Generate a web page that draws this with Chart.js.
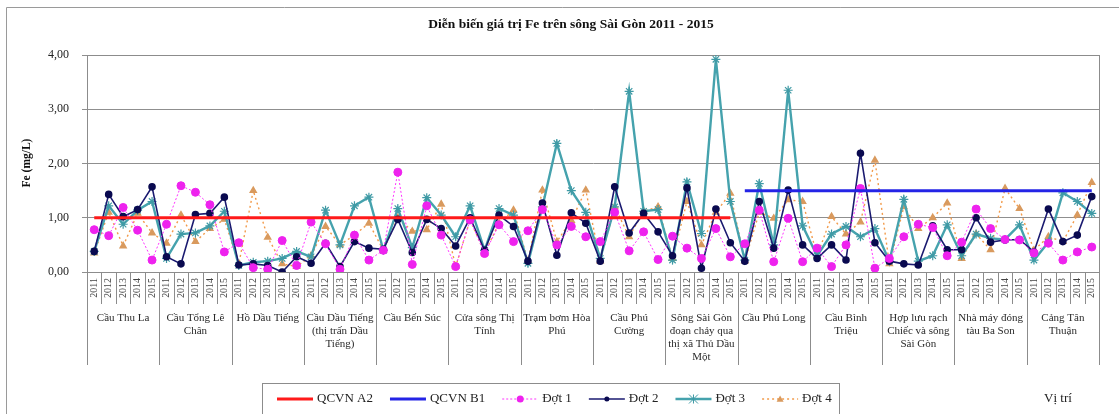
<!DOCTYPE html>
<html lang="vi">
<head>
<meta charset="utf-8">
<title>Fe - sông Sài Gòn</title>
<script src="https://cdn.jsdelivr.net/npm/chart.js@4.4.1/dist/chart.umd.min.js"></script>
<style>
  html, body { margin: 0; padding: 0; background: #fff; }
  canvas { display: block; }
</style>
</head>
<body>
<canvas id="feChart" width="1119" height="414"></canvas>
<script>
// số liệu Fe (mg/L) theo vị trí, mỗi vị trí 5 năm 2011 - 2015
const years = ['2011', '2012', '2013', '2014', '2015'];

const locations = [
  ['Cầu Thu La'],
  ['Cầu Tổng Lê', 'Chân'],
  ['Hồ Dầu Tiếng'],
  ['Cầu Dầu Tiếng', '(thị trấn Dầu', 'Tiếng)'],
  ['Cầu Bến Súc'],
  ['Cửa sông Thị', 'Tính'],
  ['Trạm bơm Hòa', 'Phú'],
  ['Cầu Phú', 'Cường'],
  ['Sông Sài Gòn', 'đoạn chảy qua', 'thị xã Thủ Dầu', 'Một'],
  ['Cầu Phú Long'],
  ['Cầu Bình', 'Triệu'],
  ['Hợp lưu rạch', 'Chiếc và sông', 'Sài Gòn'],
  ['Nhà máy đóng', 'tàu Ba Son'],
  ['Cảng Tân', 'Thuận']
];

const qcvnA2 = [
  1.0, 1.0, 1.0, 1.0, 1.0,
  1.0, 1.0, 1.0, 1.0, 1.0,
  1.0, 1.0, 1.0, 1.0, 1.0,
  1.0, 1.0, 1.0, 1.0, 1.0,
  1.0, 1.0, 1.0, 1.0, 1.0,
  1.0, 1.0, 1.0, 1.0, 1.0,
  1.0, 1.0, 1.0, 1.0, 1.0,
  1.0, 1.0, 1.0, 1.0, 1.0,
  1.0, 1.0, 1.0, 1.0, 1.0,
  null, null, null, null, null,
  null, null, null, null, null,
  null, null, null, null, null,
  null, null, null, null, null,
  null, null, null, null, null
];

const qcvnB1 = [
  null, null, null, null, null,
  null, null, null, null, null,
  null, null, null, null, null,
  null, null, null, null, null,
  null, null, null, null, null,
  null, null, null, null, null,
  null, null, null, null, null,
  null, null, null, null, null,
  null, null, null, null, null,
  1.5, 1.5, 1.5, 1.5, 1.5,
  1.5, 1.5, 1.5, 1.5, 1.5,
  1.5, 1.5, 1.5, 1.5, 1.5,
  1.5, 1.5, 1.5, 1.5, 1.5,
  1.5, 1.5, 1.5, 1.5, 1.5
];

const dot1 = [
  0.78, 0.67, 1.19, 0.77, 0.22,
  0.88, 1.59, 1.47, 1.24, 0.37,
  0.54, 0.08, 0.05, 0.58, 0.12,
  0.92, 0.52, 0.05, 0.68, 0.22,
  0.40, 1.84, 0.14, 1.22, 0.68,
  0.10, 0.96, 0.34, 0.87, 0.56,
  0.76, 1.15, 0.50, 0.84, 0.65,
  0.56, 1.10, 0.39, 0.74, 0.23,
  0.66, 0.44, 0.25, 0.80, 0.28,
  0.52, 1.14, 0.19, 0.99, 0.19,
  0.44, 0.10, 0.50, 1.54, 0.07,
  0.25, 0.65, 0.88, 0.82, 0.30,
  0.55, 1.16, 0.80, 0.60, 0.59,
  0.35, 0.53, 0.22, 0.37, 0.46
];

const dot2 = [
  0.38, 1.43, 1.02, 1.15, 1.57,
  0.28, 0.15, 1.06, 1.08, 1.38,
  0.13, 0.15, 0.12, 0.00, 0.28,
  0.16, 0.53, 0.10, 0.56, 0.44,
  0.42, 0.97, 0.36, 0.97, 0.80,
  0.48, 1.00, 0.40, 1.05, 0.84,
  0.20, 1.27, 0.31, 1.09, 0.90,
  0.20, 1.57, 0.72, 1.08, 0.74,
  0.30, 1.55, 0.07, 1.16, 0.54,
  0.20, 1.30, 0.44, 1.51, 0.50,
  0.25, 0.50, 0.22, 2.19, 0.54,
  0.20, 0.15, 0.13, 0.85, 0.41,
  0.41, 1.00, 0.55, 0.59, 0.60,
  0.37, 1.16, 0.56, 0.68, 1.39
];

const dot3 = [
  0.38, 1.22, 0.88, 1.14, 1.30,
  0.25, 0.70, 0.72, 0.85, 1.12,
  0.12, 0.18, 0.20, 0.25, 0.38,
  0.28, 1.14, 0.50, 1.22, 1.38,
  0.40, 1.17, 0.45, 1.37, 1.05,
  0.65, 1.22, 0.40, 1.17, 1.05,
  0.16, 1.20, 2.37, 1.50, 1.10,
  0.25, 1.20, 3.33, 1.12, 1.15,
  0.22, 1.66, 0.71, 3.92, 1.30,
  0.22, 1.63, 0.50, 3.35, 0.85,
  0.30, 0.70, 0.84, 0.65, 0.80,
  0.20, 1.34, 0.20, 0.30, 0.87,
  0.30, 0.70, 0.62, 0.60, 0.87,
  0.22, 0.55, 1.46, 1.30, 1.08
];

const dot4 = [
  0.35, 1.10, 0.48, 1.08, 0.72,
  0.53, 1.05, 0.56, 0.80, 0.97,
  0.15, 1.50, 0.64, 0.15, 0.10,
  0.30, 0.84, 0.50, 0.68, 0.90,
  0.40, 1.00, 0.75, 0.78, 1.25,
  0.10, 0.96, 0.35, 0.90, 1.14,
  0.20, 1.51, 0.56, 0.95, 1.51,
  0.20, 1.20, 0.65, 1.12, 1.20,
  0.25, 1.30, 0.50, 1.10, 1.45,
  0.20, 1.10, 0.99, 1.33, 1.30,
  0.30, 1.02, 0.70, 0.92, 2.06,
  0.15, 1.20, 0.80, 1.00, 1.27,
  0.25, 0.70, 0.41, 1.54, 1.17,
  0.40, 0.65, 0.56, 1.05, 1.65
];

const labels = locations.flatMap(() => years);
const serif = '"Liberation Serif", "DejaVu Serif", serif';

// vẽ tiêu đề, nhãn vị trí, chú thích và khung
const decor = {
  id: 'decor',
  beforeDatasetsDraw(chart) {
    const { ctx, chartArea: a } = chart;
    ctx.save();
    ctx.strokeStyle = '#8c8c8c';
    ctx.lineWidth = 1;
    ctx.strokeRect(a.left + 0.5, a.top + 0.5, a.right - a.left, a.bottom - a.top);
    ctx.restore();
  },
  afterDraw(chart) {
    const { ctx, chartArea: a, scales: { x } } = chart;
    ctx.save();

    // khung ngoài
    ctx.strokeStyle = '#9a9a9a';
    ctx.lineWidth = 1;
    ctx.beginPath();
    ctx.moveTo(6.5, 414);
    ctx.lineTo(6.5, 7.5);
    ctx.lineTo(1119, 7.5);
    ctx.stroke();

    // tiêu đề
    ctx.fillStyle = '#111';
    ctx.font = 'bold 13.5px ' + serif;
    ctx.textAlign = 'center';
    ctx.textBaseline = 'middle';
    ctx.fillText('Diễn biến giá trị Fe trên sông Sài Gòn 2011 - 2015', 571, 25);

    // tên trục tung
    ctx.save();
    ctx.translate(27, 163);
    ctx.rotate(-Math.PI / 2);
    ctx.font = 'bold 11.5px ' + serif;
    ctx.fillText('Fe (mg/L)', 0, 0);
    ctx.restore();

    // vạch chia năm và vị trí
    const n = labels.length;
    const edge = i => {
      if (i === 0) return a.left;
      if (i === n) return a.right;
      return (x.getPixelForValue(i - 1) + x.getPixelForValue(i)) / 2;
    };
    ctx.strokeStyle = '#8c8c8c';
    ctx.beginPath();
    for (let i = 0; i <= n; i++) {
      const px = Math.round(edge(i)) + 0.5;
      ctx.moveTo(px, a.bottom);
      ctx.lineTo(px, i % years.length === 0 ? 365 : 304);
    }
    ctx.stroke();

    // tên vị trí
    ctx.fillStyle = '#2a2a2a';
    ctx.font = '11px ' + serif;
    locations.forEach((lines, g) => {
      const cx = (edge(g * 5) + edge(g * 5 + 5)) / 2;
      lines.forEach((t, k) => ctx.fillText(t, cx, 318 + k * 13));
    });

    // chú thích
    ctx.strokeStyle = '#8c8c8c';
    ctx.strokeRect(262.5, 383.5, 577, 32);
    ctx.font = '13px ' + serif;
    ctx.textAlign = 'left';
    let lx = 277;
    const ly = 399;
    chart.data.datasets.forEach(ds => {
      ctx.save();
      ctx.strokeStyle = ds.borderColor;
      ctx.lineWidth = ds.borderWidth;
      ctx.setLineDash(ds.borderDash || []);
      ctx.beginPath();
      ctx.moveTo(lx, ly);
      ctx.lineTo(lx + 36, ly);
      ctx.stroke();
      ctx.setLineDash([]);
      drawMarker(ctx, ds, lx + 18, ly);
      ctx.restore();
      lx += 40;
      ctx.fillStyle = '#222';
      ctx.fillText(ds.label, lx, ly);
      lx += ctx.measureText(ds.label).width + 17;
    });

    ctx.textAlign = 'center';
    ctx.fillText('Vị trí', 1058, ly);
    ctx.restore();
  }
};

function drawMarker(ctx, ds, cx, cy) {
  const r = ds.pointRadius;
  if (!r) return;
  ctx.fillStyle = ds.pointBackgroundColor;
  ctx.strokeStyle = ds.pointBorderColor;
  ctx.lineWidth = 1;
  ctx.beginPath();
  if (ds.pointStyle === 'circle') {
    ctx.arc(cx, cy, r - 0.5, 0, Math.PI * 2);
    ctx.fill();
  } else if (ds.pointStyle === 'triangle') {
    ctx.moveTo(cx, cy - r);
    ctx.lineTo(cx + r, cy + r * 0.8);
    ctx.lineTo(cx - r, cy + r * 0.8);
    ctx.closePath();
    ctx.fill();
  } else {
    ctx.moveTo(cx - r, cy - r); ctx.lineTo(cx + r, cy + r);
    ctx.moveTo(cx + r, cy - r); ctx.lineTo(cx - r, cy + r);
    ctx.moveTo(cx, cy - r); ctx.lineTo(cx, cy + r);
    ctx.stroke();
  }
}

const lineOpts = { tension: 0, fill: false, spanGaps: false };

new Chart(document.getElementById('feChart'), {
  type: 'line',
  data: {
    labels: labels,
    datasets: [
      { ...lineOpts, label: 'QCVN A2', data: qcvnA2, borderColor: '#ff1a1a', borderWidth: 3, pointRadius: 0 },
      { ...lineOpts, label: 'QCVN B1', data: qcvnB1, borderColor: '#2424e6', borderWidth: 3, pointRadius: 0 },
      { ...lineOpts, label: 'Đợt 1', data: dot1, borderColor: '#ff33ff', borderWidth: 1, borderDash: [2, 2],
        pointStyle: 'circle', pointRadius: 4, pointBackgroundColor: '#ee22ee', pointBorderColor: '#ee22ee' },
      { ...lineOpts, label: 'Đợt 2', data: dot2, borderColor: '#1a1a70', borderWidth: 1.6,
        pointStyle: 'circle', pointRadius: 3, pointBackgroundColor: '#0a0a50', pointBorderColor: '#0a0a50' },
      { ...lineOpts, label: 'Đợt 3', data: dot3, borderColor: '#45a2ad', borderWidth: 2.4,
        pointStyle: 'star', pointRadius: 4.5, pointBackgroundColor: '#3f9aa5', pointBorderColor: '#3f9aa5', pointBorderWidth: 1.2 },
      { ...lineOpts, label: 'Đợt 4', data: dot4, borderColor: '#f29a4a', borderWidth: 1.4, borderDash: [2, 3],
        pointStyle: 'triangle', pointRadius: 3.5, pointBackgroundColor: '#d99a5e', pointBorderColor: '#d99a5e' }
    ]
  },
  options: {
    responsive: false,
    animation: false,
    layout: { padding: { left: 0, right: 20, top: 55, bottom: 0 } },
    plugins: {
      legend: { display: false },
      title: { display: false },
      tooltip: { enabled: false }
    },
    scales: {
      x: {
        offset: true,
        grid: { display: true, drawOnChartArea: false, drawTicks: false },
        border: { color: '#808080' },
        ticks: {
          autoSkip: false, minRotation: 90, maxRotation: 90, padding: 6,
          color: '#444', font: { family: serif, size: 10 }
        },
        afterFit: s => { s.height = 142; }
      },
      y: {
        min: 0,
        max: 4,
        grid: { color: '#8f8f8f', tickLength: 5 },
        border: { color: '#808080' },
        ticks: {
          stepSize: 1, padding: 13, color: '#222',
          font: { family: serif, size: 12 },
          callback: v => v.toFixed(2).replace('.', ',')
        },
        afterFit: s => { s.width = 87; }
      }
    }
  },
  plugins: [decor]
});
</script>
</body>
</html>
